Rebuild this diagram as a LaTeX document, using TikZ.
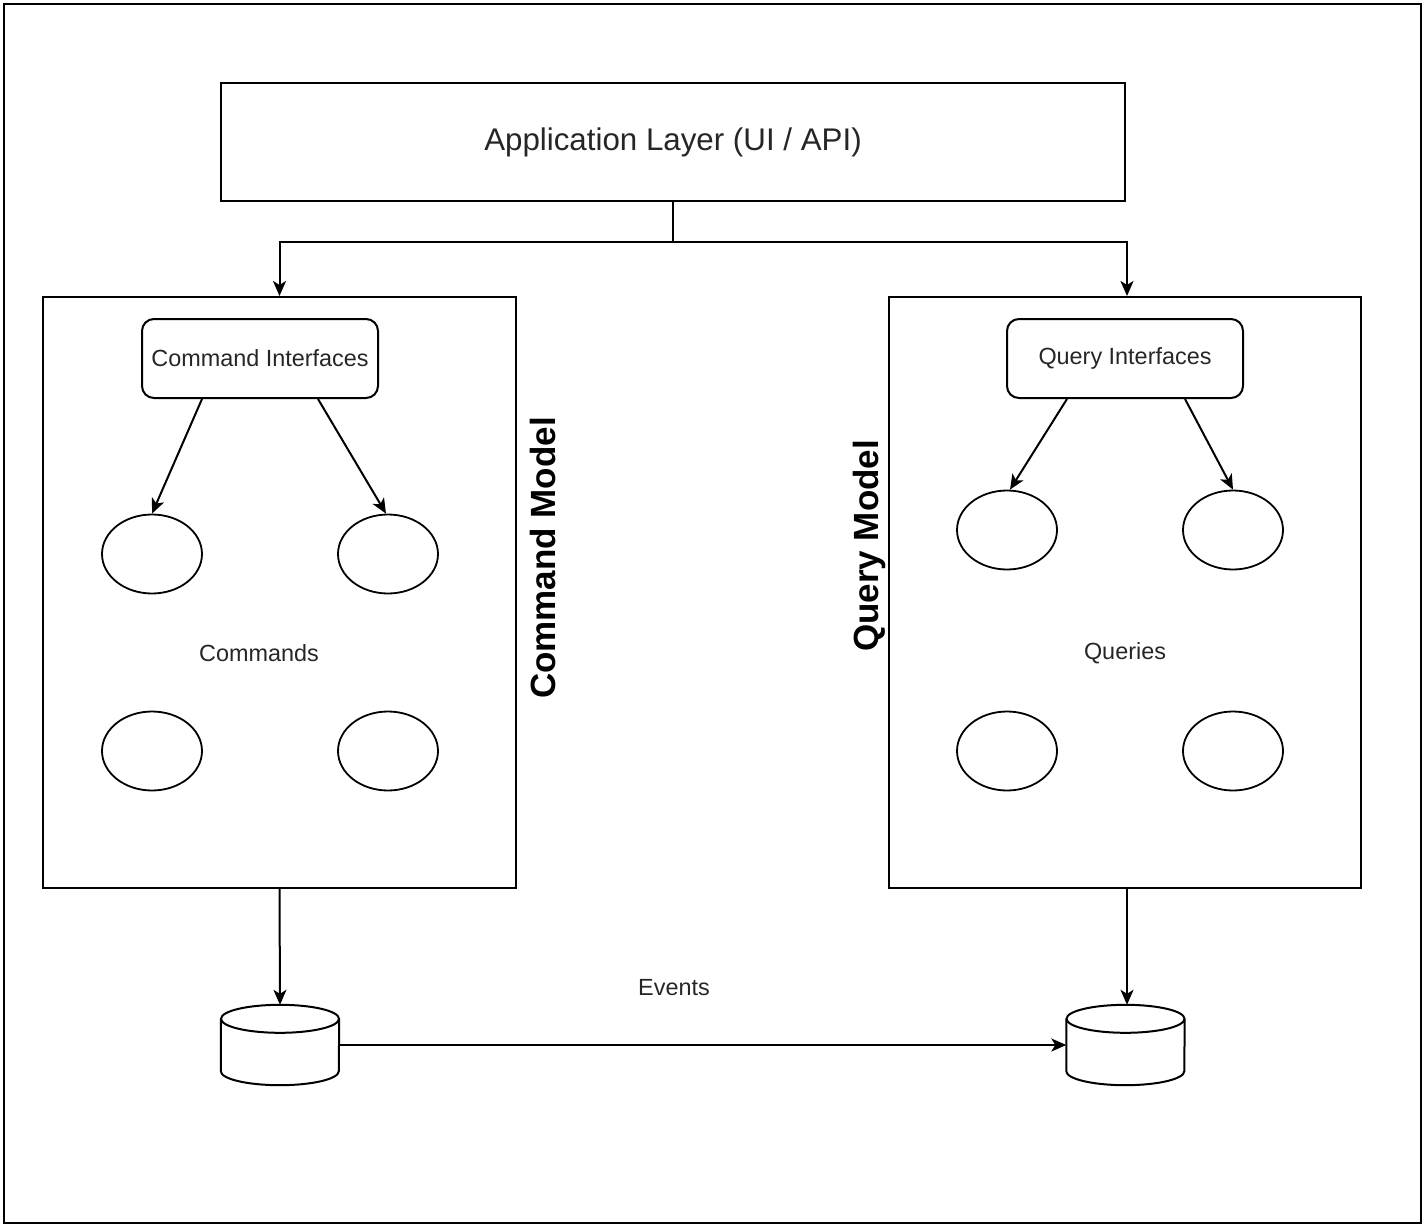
\documentclass[tikz,border=0pt]{standalone}
\usepackage{fontspec}
\setmainfont{Liberation Sans}
\usetikzlibrary{arrows.meta,shapes.geometric,calc}
\begin{document}
\begin{tikzpicture}[x=1pt,y=-1pt,
  box/.style={draw, line width=2pt, rectangle, inner sep=0pt},
  rbox/.style={draw, line width=2pt, rectangle, rounded corners=12pt, inner sep=0pt, minimum width=236pt, minimum height=79pt, font=\fontsize{23.4}{28}\selectfont},
  oval/.style={draw, line width=1.8pt, ellipse, minimum width=100pt, minimum height=79pt, inner sep=0pt},
  lbl/.style={font=\fontsize{23.4}{28}\selectfont, text=black!85},
  model/.style={font=\bfseries\fontsize{35}{42}\selectfont, rotate=90},
  conn/.style={line width=2pt, -{Stealth[length=15pt, width=13pt, inset=4pt]}},
  dbbox/.style={draw=none, rectangle, inner sep=0pt, minimum width=118pt, minimum height=80pt},
  cyl/.style={line width=2pt}
]
\useasboundingbox (0,0) rectangle (1425,1228);
\node[box, line width=2.5pt, minimum width=1417pt, minimum height=1219pt] (frame) at (712.5,613.5) {};

\node[box, minimum width=904pt, minimum height=118pt, font=\fontsize{31.3}{37}\selectfont, text=black!85] (app) at (673,142) {Application Layer (UI / API)};

\node[box, minimum width=473pt, minimum height=591pt] (cmd) at (279.5,592.5) {};
\node[box, minimum width=472pt, minimum height=591pt] (qry) at (1125,592.5) {};

\node[rbox, text=black!85] (ci) at (260,358.5) {Command Interfaces};
\node[rbox, text=black!85] (qi) at (1125,358.5) {Query Interfaces};

\node[oval] (c1) at (152,554) {};
\node[oval] (c2) at (388,554) {};
\node[oval] (c3) at (152,751) {};
\node[oval] (c4) at (388,751) {};

\node[oval] (q1) at (1007,530) {};
\node[oval] (q2) at (1233,530) {};
\node[oval] (q3) at (1007,751) {};
\node[oval] (q4) at (1233,751) {};

\node[lbl] (cmds) at (259,653) {Commands};
\node[lbl] (qrys) at (1125,653) {Queries};
\node[lbl] (ev) at (674,988) {Events};

\node[model] (cmdlbl) at (543,558) {Command Model};
\node[model] (qrylbl) at (869,546) {Query Model};

% cylinders
\node[dbbox] (dbL) at (280,1045) {};
\node[dbbox] (dbR) at (1125.5,1045) {};
\foreach \d in {dbL,dbR}{
  \draw[cyl, fill=white] ($(\d.north west)+(0,14)$) -- ($(\d.south west)+(0,-14)$)
     arc[start angle=180, end angle=0, x radius=59, y radius=14]
     -- ($(\d.north east)+(0,14)$);
  \draw[cyl] ($(\d.north)+(0,14)$) ellipse [x radius=59, y radius=14];
}

% connectors
\draw[conn] (app.south) -- ++(0,40) -| (cmd.north);
\draw[conn] (app.south) -- ++(0,40) -| ([xshift=2pt]qry.north);

\draw[conn] ([xshift=-58pt]ci.south) -- (c1.north);
\draw[conn] ([xshift=58pt]ci.south) -- ([xshift=-2pt]c2.north);
\draw[conn] ([xshift=-58pt]qi.south) -- ([xshift=3pt]q1.north);
\draw[conn] ([xshift=60pt]qi.south) -- (q2.north);

\draw[conn] (cmd.south) -- (dbL.north);
\draw[conn] ([xshift=2pt]qry.south) -- ([xshift=1.5pt]dbR.north);
\draw[conn] (dbL.east) -- (dbR.west);
\end{tikzpicture}
\end{document}
